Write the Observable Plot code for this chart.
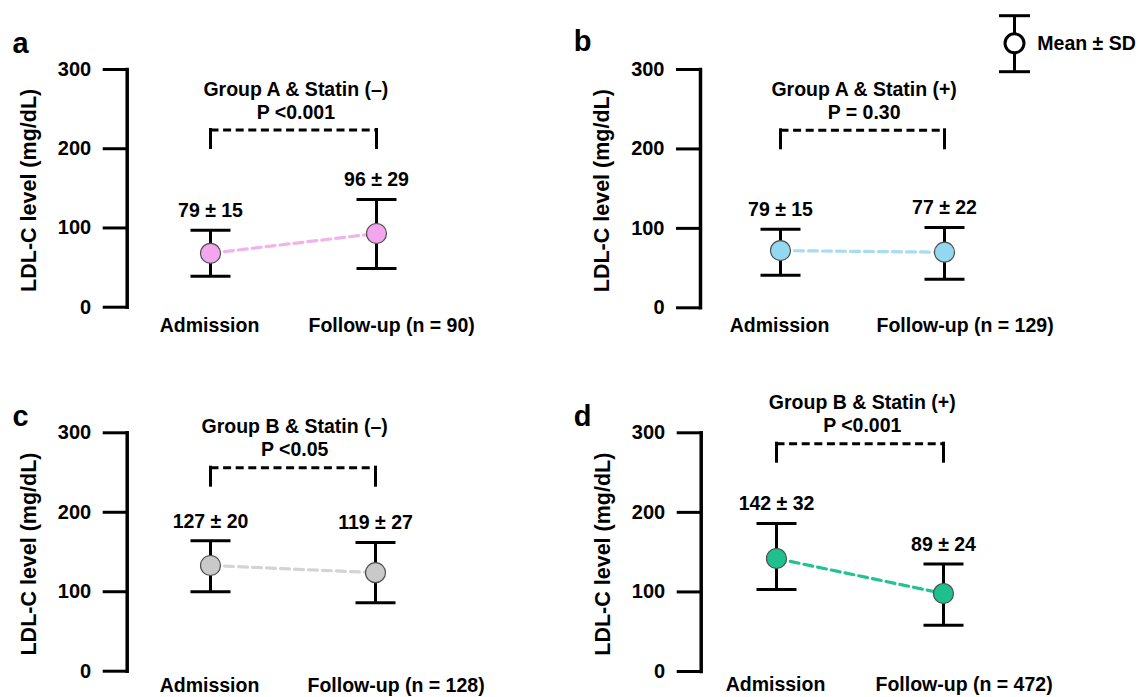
<!DOCTYPE html>
<html>
<head>
<meta charset="utf-8">
<script src="https://cdn.jsdelivr.net/npm/d3@7"></script>
<script src="https://cdn.jsdelivr.net/npm/@observablehq/plot@0.6"></script>
<style>
  body { margin: 0; background: #fff; }
  #chart { position: relative; width: 1144px; height: 697px; background: #fff;
           font-family: "Liberation Sans", Arial, sans-serif; }
  #chart svg { position: absolute; }
</style>
</head>
<body>
<div id="chart"></div>
<script>
// ---------------- data ----------------
const panelLetters = ["a", "b", "c", "d"];
const groupTitles = ["Group A & Statin (–)", "Group A & Statin (+)", "Group B & Statin (–)", "Group B & Statin (+)"];
const pValues = ["P <0.001", "P = 0.30", "P <0.05", "P <0.001"];
const timepoints = ["Admission", "Follow-up"];
const nCounts = [90, 129, 128, 472];
// plotted positions (mean marker, lower and upper SD whisker)
const meanPlotted = [[68, 93], [72, 70], [133, 124], [142, 98]];
const sdLow = [[39, 49], [41, 36], [100, 86], [103, 58]];
const sdHigh = [[97, 136], [99, 101], [164, 162], [186, 135]];
// printed annotations
const meanLabel = [[79, 96], [79, 77], [127, 119], [142, 89]];
const sdLabel = [[15, 29], [15, 22], [20, 27], [32, 24]];
const yTicks = [0, 100, 200, 300];
const yLabel = "LDL-C level (mg/dL)";
const legendText = "Mean ± SD";

// ---------------- styles / layout ----------------
const fillColors = ["#f3a6ee", "#93d7f1", "#c9c9c9", "#1fbf8e"];
const lineColors = ["#efb4ea", "#a8dcf0", "#d4d4d4", "#22c292"];
const FONT = "Liberation Sans, Arial, sans-serif";

const layout = [
  {left: 0,   top: 0,   width: 572, height: 360, axisX: 126.7, admX: 210,   fuX: 376.7, y300: 69,    y0: 306.7, title: 20,    xlab: 18.3, letter: [20, 45]},
  {left: 572, top: 0,   width: 572, height: 360, axisX: 700,   admX: 779.3, fuX: 944,   y300: 69,    y0: 307.3, title: 20.3,  xlab: 17.7, letter: [582, 43]},
  {left: 0,   top: 360, width: 572, height: 337, axisX: 126.7, admX: 209.3, fuX: 375,   y300: 432.3, y0: 670.7, title: -5.6,  xlab: 14.3, letter: [20, 418]},
  {left: 572, top: 360, width: 572, height: 337, axisX: 700.7, admX: 776,   fuX: 943.5, y300: 432.3, y0: 671,   title: -29.6, xlab: 13.3, letter: [582, 418.3]}
];

// horizontal cap symbol for the SD whiskers (half-width = r)
const capSymbol = {
  draw(context, size) {
    const r = Math.sqrt(size / Math.PI);
    context.moveTo(-r, 0);
    context.lineTo(r, 0);
  }
};

const chart = document.getElementById("chart");

panelLetters.forEach((letter, i) => {
  const L = layout[i];
  const mL = L.axisX - L.left;
  const mT = L.y300 - L.top;
  const mB = L.top + L.height - L.y0;
  const mid = (L.admX + L.fuX) / 2 + 2;
  const frameRight = 2 * mid - L.axisX;
  const mR = L.left + L.width - frameRight;
  const k = (L.y0 - L.y300) / 300; // px per unit

  const rows = timepoints.map((t, j) => ({
    time: t,
    mean: meanPlotted[i][j],
    low: sdLow[i][j],
    high: sdHigh[i][j],
    label: `${meanLabel[i][j]} ± ${sdLabel[i][j]}`
  }));

  const bracketLevel = 300 - (L.title + 40.5) / k;
  const legBottom = bracketLevel - 18 / k;

  const txt = {fontWeight: "bold", fill: "black", lineAnchor: "middle", textAnchor: "middle", text: d => d};

  const plot = Plot.plot({
    width: L.width,
    height: L.height,
    marginLeft: mL,
    marginRight: mR,
    marginTop: mT,
    marginBottom: mB,
    x: {type: "point", domain: timepoints, range: [L.admX - L.left, L.fuX - L.left], padding: 0, axis: null},
    y: {domain: [0, 300]},
    style: {fontFamily: FONT, background: "transparent", color: "black", overflow: "visible"},
    marks: [
      Plot.frame({anchor: "left", stroke: "black", strokeWidth: 3.5, strokeLinecap: "square"}),
      Plot.axisY(yTicks, {tickSize: 24, tickPadding: 12, strokeWidth: 3, fontSize: 20, fontWeight: "bold",
                          color: "black", label: null, tickFormat: d => String(d)}),
      // y axis title
      Plot.text([yLabel], {...txt, frameAnchor: "left", dx: -98, dy: 2, rotate: -90, fontSize: 21.5}),
      // panel letter
      Plot.text([letter], {...txt, frameAnchor: "top-left", dx: L.letter[0] - L.axisX,
                           dy: L.letter[1] - L.y300 - 2, fontSize: 29}),
      // group title and p value
      Plot.text([groupTitles[i]], {...txt, frameAnchor: "top", dy: L.title, fontSize: 19.5}),
      Plot.text([pValues[i]], {...txt, frameAnchor: "top", dy: L.title + 22.8, fontSize: 19.5}),
      // comparison bracket
      Plot.ruleX(timepoints, {x: d => d, y1: legBottom, y2: bracketLevel, stroke: "black",
                              strokeWidth: 3, strokeLinecap: "square"}),
      Plot.link([0], {x1: () => timepoints[0], x2: () => timepoints[1], y1: bracketLevel, y2: bracketLevel,
                      stroke: "black", strokeWidth: 3, strokeDasharray: "8,4.6"}),
      // error bars
      Plot.ruleX(rows, {x: "time", y1: "low", y2: "high", stroke: "black", strokeWidth: 3}),
      Plot.dot(rows, {x: "time", y: "low", symbol: capSymbol, r: 20, fill: "none", stroke: "black", strokeWidth: 3}),
      Plot.dot(rows, {x: "time", y: "high", symbol: capSymbol, r: 20, fill: "none", stroke: "black", strokeWidth: 3}),
      // connecting dashed line and markers
      Plot.line(rows, {x: "time", y: "mean", stroke: lineColors[i], strokeWidth: 3.2, strokeDasharray: "9,5"}),
      Plot.dot(rows, {x: "time", y: "mean", r: 10, fill: fillColors[i], stroke: "#505050", strokeWidth: 1.2}),
      // value labels
      Plot.text(rows, {...txt, x: "time", y: "high", text: "label", dy: -19.5, fontSize: 19.5}),
      // x labels
      Plot.text([timepoints[0]], {...txt, x: d => d, frameAnchor: "bottom", dy: L.xlab, dx: -1, fontSize: 19.5}),
      Plot.text([timepoints[1]], {...txt, x: d => d, frameAnchor: "bottom", dy: L.xlab, dx: -68,
                                  textAnchor: "start", fontSize: 19.5, text: d => `${d} (n = ${nCounts[i]})`})
    ]
  });
  plot.style.left = L.left + "px";
  plot.style.top = L.top + "px";
  chart.appendChild(plot);
});

// ---------------- legend ----------------
const lgLeft = 980;
const lg = d3.select(chart).append("svg")
  .attr("width", 164).attr("height", 80)
  .style("left", lgLeft + "px").style("top", "0px")
  .style("font-family", FONT);
const lcx = 1014.5 - lgLeft;
lg.append("line").attr("x1", lcx).attr("x2", lcx).attr("y1", 15.7).attr("y2", 71.7)
  .attr("stroke", "black").attr("stroke-width", 3);
[15.7, 71.7].forEach(y => lg.append("line").attr("x1", lcx - 15.5).attr("x2", lcx + 15.5)
  .attr("y1", y).attr("y2", y).attr("stroke", "black").attr("stroke-width", 3));
lg.append("circle").attr("cx", lcx).attr("cy", 43.3).attr("r", 9.5)
  .attr("fill", "white").attr("stroke", "black").attr("stroke-width", 3);
lg.append("text").attr("x", 1037.3 - lgLeft).attr("y", 43.3).attr("dy", "0.35em")
  .attr("font-size", 19.5).attr("font-weight", "bold").attr("fill", "black").text(legendText);
</script>
</body>
</html>
